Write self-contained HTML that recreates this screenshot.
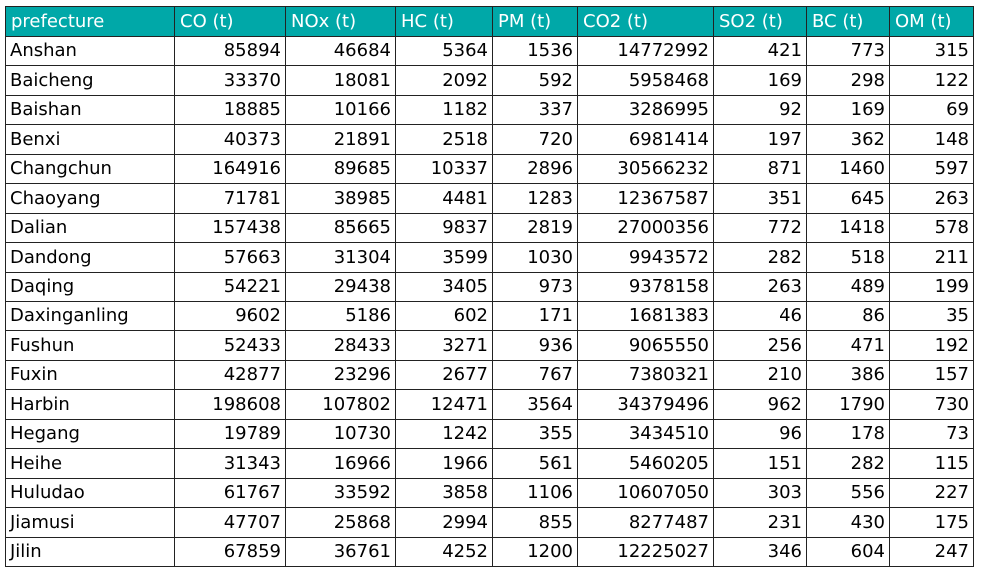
<!DOCTYPE html>
<html><head><meta charset="utf-8"><style>
html,body{margin:0;padding:0;background:#fff;width:982px;height:576px;overflow:hidden}
#tbl{position:absolute;left:0;top:0;width:982px;height:576px;font-family:"DejaVu Sans","Liberation Sans",sans-serif;font-size:18px;color:#000}
.c{position:absolute;box-sizing:border-box;border:1px solid #222;white-space:nowrap;padding:0 4px;overflow:hidden}
.h{background:#00a8a8;color:#fff;text-align:left;padding-left:5px}
.n{text-align:right}
</style></head><body>
<div id="tbl"></div>
<script>
const headers=["prefecture","CO (t)","NOx (t)","HC (t)","PM (t)","CO2 (t)","SO2 (t)","BC (t)","OM (t)"];
const rows=[
["Anshan",85894,46684,5364,1536,14772992,421,773,315],
["Baicheng",33370,18081,2092,592,5958468,169,298,122],
["Baishan",18885,10166,1182,337,3286995,92,169,69],
["Benxi",40373,21891,2518,720,6981414,197,362,148],
["Changchun",164916,89685,10337,2896,30566232,871,1460,597],
["Chaoyang",71781,38985,4481,1283,12367587,351,645,263],
["Dalian",157438,85665,9837,2819,27000356,772,1418,578],
["Dandong",57663,31304,3599,1030,9943572,282,518,211],
["Daqing",54221,29438,3405,973,9378158,263,489,199],
["Daxinganling",9602,5186,602,171,1681383,46,86,35],
["Fushun",52433,28433,3271,936,9065550,256,471,192],
["Fuxin",42877,23296,2677,767,7380321,210,386,157],
["Harbin",198608,107802,12471,3564,34379496,962,1790,730],
["Hegang",19789,10730,1242,355,3434510,96,178,73],
["Heihe",31343,16966,1966,561,5460205,151,282,115],
["Huludao",61767,33592,3858,1106,10607050,303,556,227],
["Jiamusi",47707,25868,2994,855,8277487,231,430,175],
["Jilin",67859,36761,4252,1200,12225027,346,604,247]
];
const colX=[5,174,285,395,492,577,713,806,889,973];
const top0=6, headH=30, bottom=566;
const rowH=(bottom-top0-headH)/rows.length;
const t=document.getElementById('tbl');
function cell(txt,ci,y0,y1,cls){
  const d=document.createElement('div');
  d.className='c '+cls;
  d.style.left=colX[ci]+'px';
  d.style.top=y0+'px';
  d.style.width=(colX[ci+1]-colX[ci]+1)+'px';
  d.style.height=(y1-y0+1)+'px';
  d.style.lineHeight=(y1-y0-1)+'px';
  d.textContent=txt;
  t.appendChild(d);
  return d;
}
headers.forEach((hd,ci)=>{
  const d=cell(hd,ci,top0,top0+headH,'h');
  
  
});
rows.forEach((r,ri)=>{
  const y0=Math.round(top0+headH+ri*rowH);
  const y1=Math.round(top0+headH+(ri+1)*rowH);
  r.forEach((v,ci)=>{
    const d=cell(String(v),ci,y0,y1,ci===0?'':'n');
    
    
  });
});
</script>
</body></html>
